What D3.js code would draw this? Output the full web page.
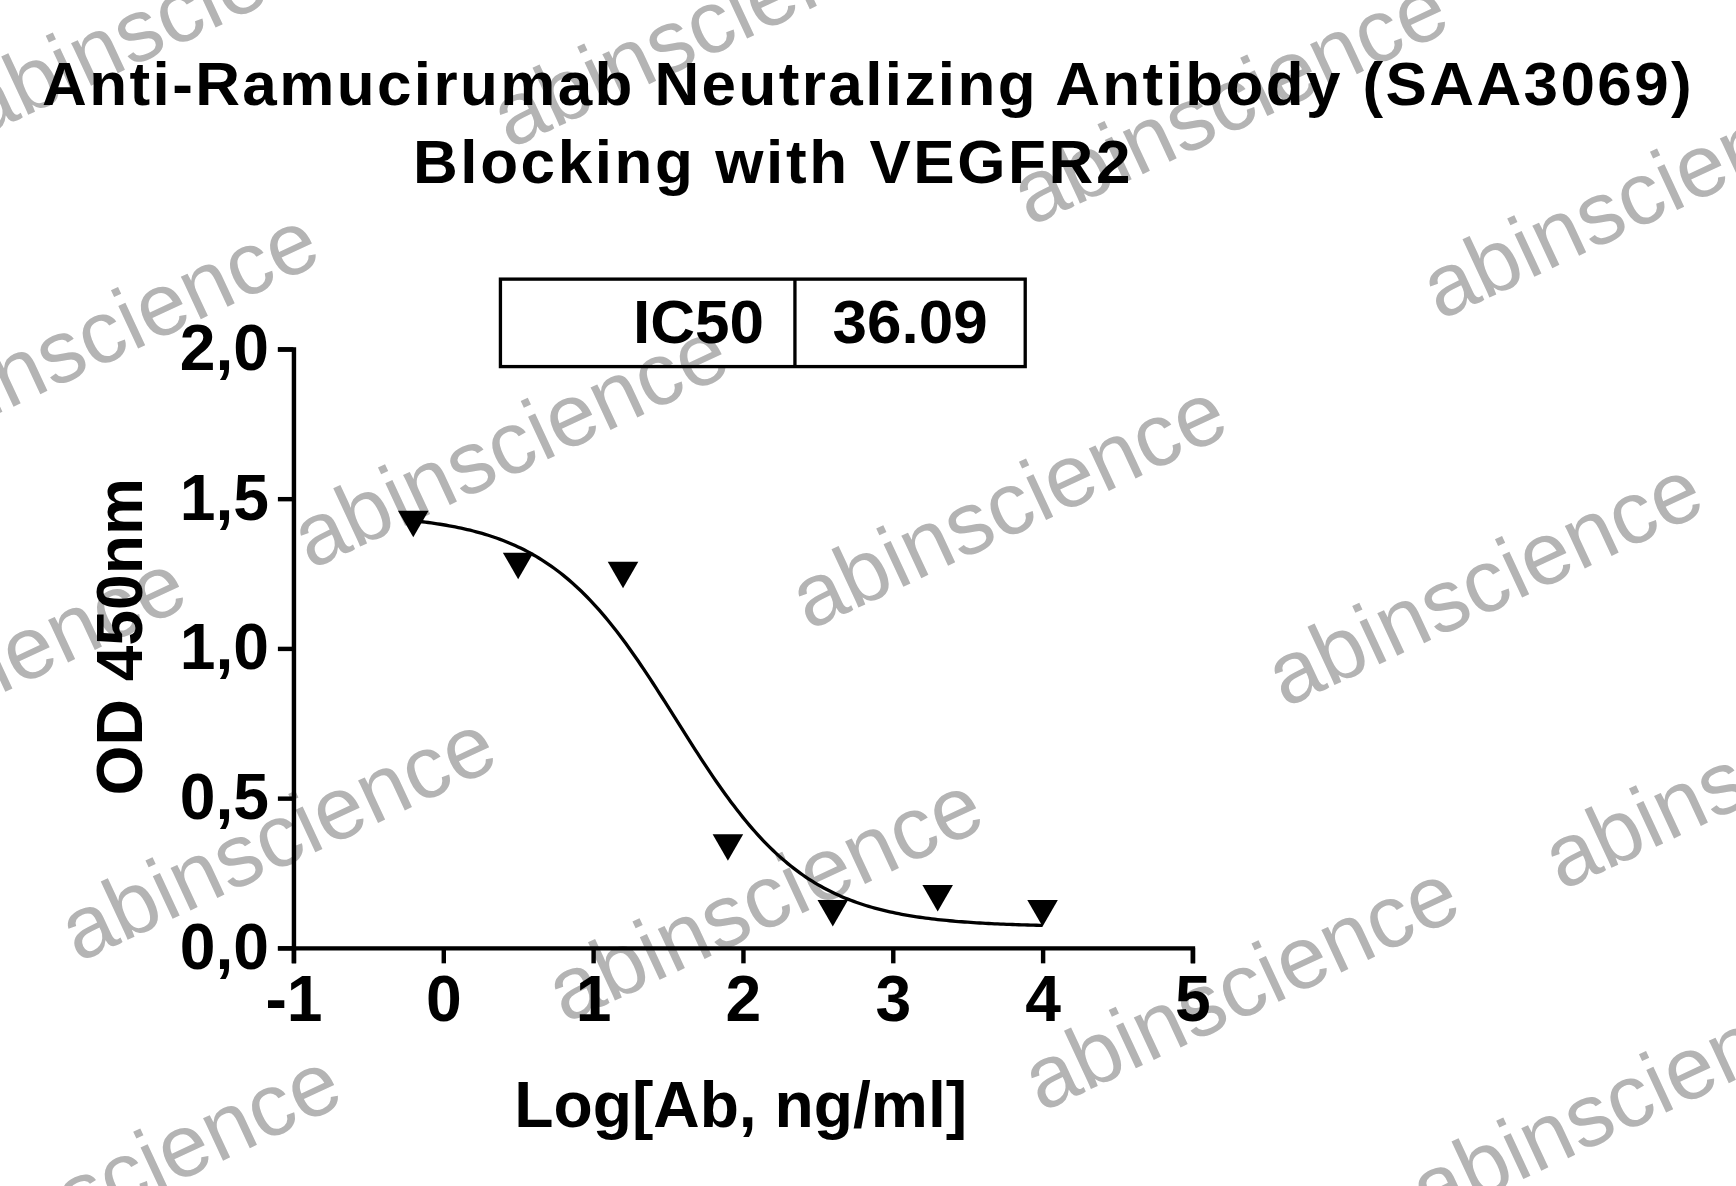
<!DOCTYPE html>
<html><head><meta charset="utf-8">
<script src="https://cdn.jsdelivr.net/npm/d3@7"></script>
<style>body{margin:0;background:#fff}svg{display:block}</style>
</head><body>
<script>
// measured points (log concentration, OD450)
const logConc = [-0.2, 0.5, 1.2, 1.9, 2.6, 3.3, 4.0];
const od450 = [1.43, 1.29, 1.26, 0.35, 0.13, 0.18, 0.13];
// 4PL fit parameters
const fitTop = 1.45, fitBottom = 0.07, logIC50 = 1.557, hill = 1.0;
const xTicks = [-1, 0, 1, 2, 3, 4, 5];
const yTicks = [0, 0.5, 1.0, 1.5, 2.0];
const ic50Label = "36.09";
const marks = [[160,10],[640,20],[1110,90],[1480,175],[90,300],[460,400],[910,455],[1340,525],[-30,610],[250,755],[690,810],[1120,890],[1590,690],[110,1060],[1470,990]];

const W = 1568, H = 1071;
const FF = '"Liberation Sans", Arial, sans-serif';
const svg = d3.select('body').append('svg')
  .attr('width', 1736).attr('height', 1186)
  .attr('viewBox', `0 0 ${W} ${H}`)
  .style('font-family', FF);

const x = d3.scaleLinear().domain([-1, 5]).range([265, 1077]);
const y = d3.scaleLinear().domain([0, 2]).range([856, 315]);

// watermarks behind
svg.selectAll('.wm').data(marks).enter().append('text')
  .attr('transform', d => `translate(${d[0]},${d[1]}) rotate(-25)`)
  .attr('text-anchor', 'middle').attr('dy', '0.35em')
  .attr('font-size', 80).attr('fill', '#b4b4b4')
  .text('abinscience');

svg.append('text').attr('x', 783).attr('y', 95).attr('text-anchor', 'middle')
  .attr('font-size', 56).attr('font-weight', 'bold').attr('textLength', 1490)
  .text('Anti-Ramucirumab Neutralizing Antibody (SAA3069)');
svg.append('text').attr('x', 697).attr('y', 165).attr('text-anchor', 'middle')
  .attr('font-size', 56).attr('font-weight', 'bold').attr('textLength', 648)
  .text('Blocking with VEGFR2');

// axes
const xAxis = svg.append('g').attr('transform', `translate(0,${y(0)})`)
  .call(d3.axisBottom(x).tickValues(xTicks).tickSize(14).tickFormat(d => String(d)));
const yAxis = svg.append('g').attr('transform', `translate(${x(-1)},0)`)
  .call(d3.axisLeft(y).tickValues(yTicks).tickSize(14).tickFormat(d => d3.format('.1f')(d).replace('.', ',')));
[xAxis, yAxis].forEach(g => {
  g.select('.domain').attr('stroke', '#000').attr('stroke-width', 4);
  g.selectAll('.tick line').attr('stroke', '#000').attr('stroke-width', 4);
  g.selectAll('.tick text').attr('fill', '#000').attr('font-size', 58).attr('font-weight', 'bold')
    .style('font-family', FF);
});
xAxis.selectAll('.tick text').attr('dy', '0.8em').attr('y', 20);
yAxis.selectAll('.tick text').attr('x', -22);

svg.append('text').attr('x', 669).attr('y', 1018).attr('text-anchor', 'middle')
  .attr('font-size', 58).attr('font-weight', 'bold').text('Log[Ab, ng/ml]');
svg.append('text').attr('transform', 'translate(128,575) rotate(-90)').attr('text-anchor', 'middle')
  .attr('font-size', 58).attr('font-weight', 'bold').text('OD 450nm');

// fitted curve
const curveX = d3.range(logConc[0], logConc[logConc.length - 1] + 0.001, 0.02);
const fit = v => fitBottom + (fitTop - fitBottom) / (1 + Math.pow(10, (v - logIC50) * hill));
svg.append('path').datum(curveX)
  .attr('d', d3.line().x(d => x(d)).y(d => y(fit(d))))
  .attr('fill', 'none').attr('stroke', '#000').attr('stroke-width', 3);

// points (down triangles)
svg.selectAll('.pt').data(logConc).enter().append('path')
  .attr('transform', (d, i) => `translate(${x(d)},${y(od450[i])}) rotate(180)`)
  .attr('d', d3.symbol().type(d3.symbolTriangle).size(330)).attr('fill', '#000');

// IC50 table
svg.append('rect').attr('x', 452).attr('y', 252).attr('width', 474).attr('height', 79)
  .attr('fill', 'none').attr('stroke', '#000').attr('stroke-width', 3);
svg.append('line').attr('x1', 718).attr('x2', 718).attr('y1', 252).attr('y2', 331)
  .attr('stroke', '#000').attr('stroke-width', 3);
svg.append('text').attr('x', 690).attr('y', 310).attr('text-anchor', 'end')
  .attr('font-size', 56).attr('font-weight', 'bold').text('IC50');
svg.append('text').attr('x', 822).attr('y', 310).attr('text-anchor', 'middle')
  .attr('font-size', 56).attr('font-weight', 'bold').text(ic50Label);
</script>
</body></html>
